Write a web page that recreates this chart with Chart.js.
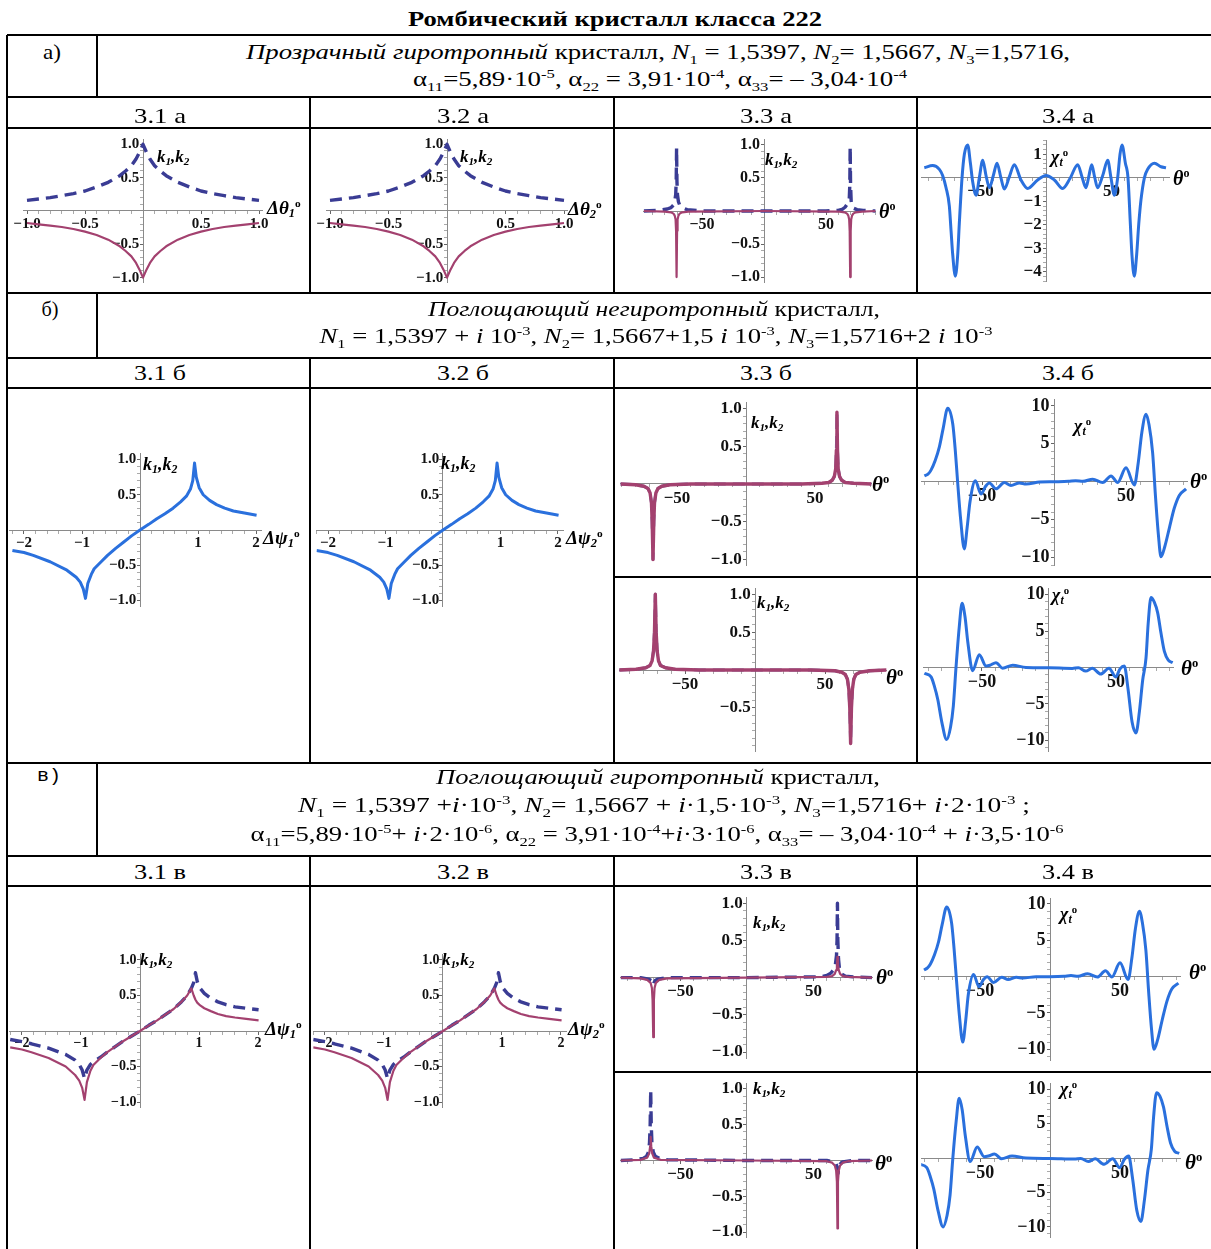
<!DOCTYPE html>
<html>
<head>
<meta charset="utf-8">
<script src="https://cdn.jsdelivr.net/npm/chart.js@4.4.1/dist/chart.umd.min.js"></script>
<style>
html,body{margin:0;padding:0;background:#fff;}
#page{position:relative;width:1211px;height:1249px;overflow:hidden;font-family:"Liberation Serif","Times New Roman",serif;color:#000;}
.rule{position:absolute;background:#000;z-index:5;}
.txt{position:absolute;white-space:nowrap;line-height:1;z-index:6;}
.txt sub,.txt sup{font-size:0.62em;line-height:0;}
.mono{font-family:"Liberation Mono","DejaVu Sans Mono",monospace;}
canvas{position:absolute;z-index:2;}
.ax{position:absolute;white-space:nowrap;line-height:1;font-weight:bold;font-style:italic;z-index:4;}
.ax sub{font-size:0.66em;vertical-align:-0.25em;line-height:0;}
.ax sup{font-size:0.6em;vertical-align:0.65em;line-height:0;font-style:normal;}
</style>
</head>
<body>
<div id="page"></div>
<script>
// ---------- data: 3.1 а / 3.2 а (k1, k2 vs Δθ) ----------
const dTheta = [-1,-0.9,-0.8,-0.7,-0.6,-0.5,-0.4,-0.3,-0.2,-0.15,-0.1,-0.06,-0.03,0,0.03,0.06,0.1,0.15,0.2,0.3,0.4,0.5,0.6,0.7,0.8,0.9,1];
const k1_a = [0.16,0.18,0.20,0.23,0.26,0.30,0.36,0.43,0.53,0.60,0.68,0.78,0.88,1.00,0.88,0.78,0.68,0.60,0.53,0.43,0.36,0.30,0.26,0.23,0.20,0.18,0.16];
const k2_a = [-0.18,-0.20,-0.22,-0.24,-0.27,-0.31,-0.36,-0.43,-0.53,-0.60,-0.68,-0.78,-0.88,-1.00,-0.88,-0.78,-0.68,-0.60,-0.53,-0.43,-0.36,-0.31,-0.27,-0.24,-0.22,-0.20,-0.18];

// ---------- 3.3 а (k1, k2 vs θ) ----------
const thK1_33a = [-97,-85,-78,-75,-73,-72,-71.2,-70.8,-70.5,-70.2,-69.8,-69,-68,-66,-62,-50,0,50,60,63.5,65.5,67,68,68.8,69.2,69.5,69.8,70.3,71,72.5,75,80,90];
const k1_33a   = [0,0.01,0.03,0.05,0.09,0.14,0.25,0.45,0.95,0.45,0.25,0.14,0.09,0.05,0.02,0,0,0,0.01,0.03,0.06,0.1,0.13,0.2,0.4,0.97,0.4,0.15,0.08,0.04,0.02,0.01,0];
const thK2_33a = [-97,-80,-75,-73,-72,-71.3,-70.9,-70.5,-70.1,-69.7,-69,-68,-66,-61,0,61,65,67,68,68.7,69.1,69.5,69.9,70.3,71,72,74,79,90];
const k2_33a   = [0,-0.01,-0.02,-0.04,-0.07,-0.13,-0.3,-1.0,-0.3,-0.13,-0.07,-0.04,-0.02,-0.01,0,-0.01,-0.02,-0.04,-0.07,-0.13,-0.3,-1.0,-0.3,-0.13,-0.07,-0.04,-0.02,-0.01,0];

// ---------- 3.4 а (χt vs θ) ----------
const th_34a  = [-92.9,-86.5,-81.4,-78.9,-76.3,-73.8,-72.5,-71.2,-69.2,-67.4,-66.2,-64.1,-62.3,-59.8,-57.7,-56,-53.4,-50.9,-48.3,-45.8,-43.2,-40.2,-37.4,-34.4,-31.8,-28,-24.2,-19.1,-14,-6.4,0,6.4,12.7,18.3,24.2,27.5,30.5,32.6,34.9,37.1,39.4,43.3,47.1,49.6,52.2,54.7,56.5,58,60.6,62.6,64.4,65.6,67.4,69.2,70.8,72.5,75.1,77.6,82.8,87.8,91.6];
const chi_34a = [0.43,0.52,0.36,0.1,-0.42,-1.19,-2.23,-3.27,-4.18,-3.27,-1.97,0,1.01,1.4,0.62,-0.16,-0.74,0,0.75,0.1,-0.42,0.1,0.62,0,-0.48,0.04,0.56,-0.09,-0.45,-0.09,0.1,-0.09,-0.45,-0.03,0.56,0.04,-0.42,0.04,0.56,0.04,-0.42,0.1,0.75,0,-0.74,0,1.01,1.4,0.62,0,-1.97,-3.27,-4.18,-3.27,-1.97,-0.94,0,0.36,0.62,0.47,0.43];

// ---------- 3.1 б / 3.2 б (k1 = k2 vs Δψ) ----------
const psi_b = [-2.2,-2.0,-1.84,-1.55,-1.26,-1.1,-1.03,-0.98,-0.94,-0.9,-0.84,-0.79,-0.67,-0.56,-0.42,-0.28,-0.14,0,0.15,0.29,0.43,0.57,0.7,0.8,0.87,0.91,0.94,0.97,1.02,1.09,1.2,1.32,1.46,1.61,1.8,2.01];
const k_b   = [-0.29,-0.32,-0.36,-0.45,-0.57,-0.67,-0.74,-0.83,-0.97,-0.76,-0.63,-0.55,-0.45,-0.36,-0.26,-0.17,-0.08,0,0.08,0.16,0.23,0.31,0.4,0.48,0.58,0.7,0.95,0.75,0.6,0.5,0.42,0.36,0.31,0.27,0.24,0.21];

// ---------- 3.3 б (two settings, k1 = k2 vs θ) ----------
const th_33b1 = [-91,-80,-74,-71,-69.5,-68.5,-68,-67.4,-66.8,-66.3,-65.3,-63.8,-61,-55,-40,0,40,55,60,62.5,64,65,65.5,65.9,66.3,66.8,67.8,69.3,72,78,91];
const k_33b1  = [0,-0.01,-0.03,-0.06,-0.12,-0.25,-0.5,-1.0,-0.5,-0.25,-0.12,-0.06,-0.03,-0.01,0,0,0,0.01,0.02,0.05,0.1,0.2,0.45,0.95,0.45,0.2,0.1,0.05,0.02,0.01,0];
const th_33b2 = [-97,-85,-78,-75,-73.5,-72.5,-71.8,-71.2,-70.6,-69.9,-68.9,-67.5,-64,-57,-40,0,40,57,62,64.5,66,67,67.7,68.3,68.9,69.6,70.6,72,75,82,94];
const k_33b2  = [0,0.01,0.03,0.06,0.12,0.25,0.5,1.0,0.5,0.25,0.12,0.06,0.03,0.01,0,0,0,-0.01,-0.03,-0.06,-0.12,-0.25,-0.5,-0.97,-0.5,-0.25,-0.12,-0.06,-0.03,-0.01,0];

// ---------- 3.4 б (two settings, χt vs θ) ----------
const th_34b1  = [-90,-87.5,-85.5,-82.5,-79.6,-77,-73.8,-70.3,-68.5,-66.9,-64.8,-62.3,-60.3,-58.3,-54.6,-50.7,-47.5,-44.9,-40.3,-34.5,-29.9,-24,-19.4,-10,0,10,15,20,26.9,33.8,39.6,44.2,50,55.8,58.5,61,63.9,66,68.5,70.5,72.5,74.3,77,80.1,83.5,87,91.7];
const chi_34b1 = [0.77,1.0,1.5,2.8,4.6,7.0,9.7,7.6,4.0,-0.1,-5.0,-8.85,-6.0,-2.6,0.13,-1.6,-0.6,-0.17,-0.94,-0.1,-0.5,-0.15,-0.3,-0.05,0,0.05,0.13,0.05,0.34,-0.1,0.77,-0.1,1.84,-0.43,2.5,6.5,8.9,7.5,3.8,-2.0,-7.0,-9.9,-8.5,-6.1,-3.5,-1.8,-0.94];
const th_34b2  = [-93,-88,-85.5,-83,-80,-76.4,-73.5,-71.4,-69.4,-67,-64.9,-62.7,-60.6,-57,-52,-47,-44,-39.6,-34.6,-27.1,-17.2,0,17.4,22,27.4,32.3,38.6,44.8,49.8,53,56.2,59,62,64.9,67.5,69.9,72.4,74,76.1,78.5,81.1,83.5,86.1,89,92.3];
const chi_34b2 = [-0.8,-1.3,-2.6,-4.4,-7.5,-9.9,-8.2,-5.3,0,5.5,8.8,7.0,3.5,-0.44,1.75,0.2,0.3,0.66,-0.1,0.3,0,-0.05,-0.13,-0.05,-0.5,-0.1,-0.9,-0.1,-1.3,-0.2,0.2,-3.0,-7.5,-9.0,-6.0,-1.75,1.3,6.0,9.6,9.0,7.5,4.8,2.2,1.0,0.66];

// ---------- 3.1 в / 3.2 в (k1 dashed, k2 solid vs Δψ) ----------
const psi_v = [-2.2,-2.0,-1.84,-1.55,-1.26,-1.1,-1.03,-0.98,-0.94,-0.9,-0.84,-0.79,-0.67,-0.56,-0.42,-0.28,-0.14,0,0.15,0.29,0.43,0.57,0.7,0.8,0.87,0.91,0.94,0.97,1.02,1.09,1.2,1.32,1.46,1.61,1.8,2.01];
const k1_v  = [-0.12,-0.15,-0.18,-0.24,-0.33,-0.41,-0.47,-0.55,-0.67,-0.55,-0.47,-0.43,-0.37,-0.3,-0.22,-0.14,-0.07,0,0.08,0.15,0.23,0.31,0.41,0.5,0.6,0.68,0.82,0.7,0.6,0.53,0.46,0.41,0.37,0.34,0.32,0.3];
const k2_v  = [-0.23,-0.26,-0.3,-0.38,-0.5,-0.62,-0.7,-0.8,-0.97,-0.72,-0.56,-0.48,-0.38,-0.3,-0.22,-0.14,-0.07,0,0.08,0.15,0.23,0.31,0.41,0.5,0.6,0.5,0.44,0.4,0.36,0.32,0.28,0.24,0.21,0.19,0.17,0.15];

// ---------- 3.3 в (two settings, k1 / k2 vs θ) ----------
const thK1_33v1 = [-95,-80,-74,-72,-71,-70.5,-70,-69,-67,-60,0,55,60,63,65,66.5,67.3,67.7,68,68.3,68.8,69.5,71,74,80,94];
const k1_33v1   = [0,0,-0.02,-0.04,-0.07,-0.1,-0.07,-0.04,-0.02,0,0,0.01,0.03,0.06,0.1,0.18,0.3,0.5,1.0,0.5,0.25,0.12,0.05,0.02,0.01,0];
const thK2_33v1 = [-95,-80,-75,-72.5,-71.5,-71,-70.5,-70,-69.5,-68.5,-66,-60,0,60,64,66,67,67.6,68,68.4,69,70,72,76,94];
const k2_33v1   = [0,-0.01,-0.03,-0.07,-0.14,-0.3,-0.8,-0.3,-0.14,-0.07,-0.03,-0.01,0,0.01,0.02,0.05,0.1,0.17,0.28,0.17,0.1,0.05,0.02,0.01,0];
const thK1_33v2 = [-95,-85,-78,-75.5,-74,-73.3,-72.8,-72.4,-72,-71.5,-70.5,-69,-66,-60,0,60,65,67,68,68.5,69,70,72,80,94];
const k1_33v2   = [0,0.01,0.03,0.06,0.12,0.25,0.5,0.98,0.5,0.25,0.12,0.06,0.03,0.01,0,0,-0.02,-0.05,-0.1,-0.18,-0.1,-0.05,-0.02,0,0];
const thK2_33v2 = [-95,-80,-75,-73.5,-72.8,-72.4,-72,-71.3,-70,-65,0,60,64,66,67,67.6,68,68.4,69,70,72,76,94];
const k2_33v2   = [0,0.01,0.04,0.1,0.2,0.33,0.2,0.1,0.04,0.01,0,-0.01,-0.03,-0.07,-0.14,-0.3,-0.95,-0.3,-0.14,-0.07,-0.03,-0.01,0];

// ---------- 3.4 в (two settings, χt vs θ) ----------
const th_34v1  = [-90,-87.5,-85.5,-82.5,-79.6,-77,-73.8,-70.3,-68.5,-66.9,-64.8,-62.3,-60.3,-58.3,-54.6,-50.7,-47.5,-44.9,-40.3,-34.5,-29.9,-24,-19.4,-10,0,10,15,20,26.9,33.8,39.6,44.2,50,55.8,58.5,61,63.9,66,68.5,70.5,72.5,74.3,77,80.1,83.5,87,91.7];
const chi_34v1 = [0.9,1.2,1.7,3.0,4.8,7.2,9.6,7.4,3.8,-0.2,-5.2,-9.0,-6.2,-2.4,0.3,-1.4,-0.4,0,-0.8,-0.1,-0.4,-0.1,-0.2,0,0,0.05,0.15,0.05,0.4,-0.05,0.8,-0.05,1.9,-0.4,2.6,6.6,9.0,7.4,3.6,-2.2,-7.2,-10.0,-8.6,-6.0,-3.4,-1.7,-0.9];
const th_34v2  = [-93,-88,-85.5,-83,-80,-76.4,-73.5,-71.4,-69.4,-67,-64.9,-62.7,-60.6,-57,-52,-47,-44,-39.6,-34.6,-27.1,-17.2,0,17.4,22,27.4,32.3,38.6,44.8,49.8,53,56.2,59,62,64.9,67.5,69.9,72.4,74,76.1,78.5,81.1,83.5,86.1,89,92.3];
const chi_34v2 = [-0.9,-1.4,-2.7,-4.5,-7.6,-10.0,-8.3,-5.4,0,5.4,8.7,7.0,3.4,-0.5,1.6,0.2,0.3,0.6,-0.1,0.3,0,-0.05,-0.15,-0.05,-0.5,-0.1,-0.9,-0.1,-1.4,-0.2,0.3,-3.0,-7.6,-9.2,-6.0,-1.8,1.3,6.0,9.5,9.0,7.4,4.7,2.2,1.0,0.7];

// ---------- styles ----------
const NAVY = '#3a3c94', MAROON = '#a3416f', BLUE = '#2a70dd', AXIS = '#8a8a8a';
const SERIF = '"Liberation Serif","Times New Roman",serif';

const page = document.getElementById('page');

function pts(xs, ys) {
  if (xs.length !== ys.length) console.error('length mismatch', xs.length, ys.length);
  return xs.map((x, i) => ({x: x, y: ys[i]}));
}
const dashed = (xs, ys) => ({data: pts(xs, ys), borderColor: NAVY, borderWidth: 3.4, borderDash: [12, 7], tension: 0});
const dashedOver = (xs, ys) => ({data: pts(xs, ys), borderColor: 'rgba(58,60,148,0.75)', borderWidth: 3, borderDash: [12, 7], tension: 0});
const solid = (xs, ys, w) => ({data: pts(xs, ys), borderColor: MAROON, borderWidth: w || 2.2, tension: 0});
const smooth = (xs, ys) => ({data: pts(xs, ys), borderColor: BLUE, borderWidth: 3, cubicInterpolationMode: 'monotone'});
const cusp = (xs, ys) => ({data: pts(xs, ys), borderColor: BLUE, borderWidth: 3, tension: 0});

const fmt1 = v => (v < 0 ? '\u2212' : '') + Math.abs(v).toFixed(1);
const fmt0 = v => (v < 0 ? '\u2212' : '') + Math.abs(Math.round(v));

function axis(range, step, majors, fmt, fs, pos, isY) {
  const isMajor = v => majors.some(m => Math.abs(m - v) < step / 10);
  return {
    type: 'linear', min: range[0], max: range[1], position: pos,
    afterFit: s => { if (isY) s.width = 0; else s.height = 0; },
    border: {display: true, color: AXIS, width: 1},
    grid: {display: true, drawOnChartArea: false, drawTicks: true, tickLength: 3,
           tickColor: c => (c.tick && isMajor(c.tick.value)) ? '#666' : '#aaa'},
    ticks: {stepSize: step, includeBounds: false, autoSkip: false, maxRotation: 0, minRotation: 0,
            padding: 1, color: '#111', font: {family: SERIF, size: fs, weight: 'bold'},
            callback: v => isMajor(v) ? fmt(v) + (isY ? ' ' : '') : ''}
  };
}

const K   = '<i>k</i><sub>1</sub>,<i>k</i><sub>2</sub>';
const DT1 = 'Δ<i>θ</i><sub>1</sub><sup>o</sup>';
const DT2 = 'Δ<i>θ</i><sub>2</sub><sup>o</sup>';
const DP1 = 'Δ<i>ψ</i><sub>1</sub><sup>o</sup>';
const DP2 = 'Δ<i>ψ</i><sub>2</sub><sup>o</sup>';
const TH  = '<i>θ</i><sup>o</sup>';
const CHI = '<i>χ</i><sub>t</sub><sup>o</sup>';

const M1 = [-1, -0.5, 0.5, 1], M50 = [-50, 50];

const charts = [
  // row а
  {cell:[8,129,302,164], ox:143, sx:116, oy:209, sy:68.5, x:[-1.03,1.03], y:[-1.08,1.08],
   xt:[0.1,M1,fmt1], yt:[0.1,M1,fmt1], fs:15,
   series:[dashed(dTheta,k1_a), solid(dTheta,k2_a)], titles:[[K,157,148,17],[DT1,267,198,19]]},
  {cell:[310,129,304,164], ox:447, sx:117, oy:209, sy:68.5, x:[-1.03,1.03], y:[-1.08,1.08],
   xt:[0.1,M1,fmt1], yt:[0.1,M1,fmt1], fs:15,
   series:[dashed(dTheta,k1_a), solid(dTheta,k2_a)], titles:[[K,460,148,17],[DT2,568,199,19]]},
  {cell:[614,129,303,164], ox:764, sx:1.24, oy:210, sy:68.5, x:[-97,90], y:[-1.08,1.08],
   xt:[10,M50,fmt0], yt:[0.1,M1,fmt1], fs:16,
   series:[solid(thK2_33a,k2_33a), dashed(thK1_33a,k1_33a)], titles:[[K,765,151,17],[TH,879,201,20]]},
  {cell:[917,129,294,164], ox:1046, sx:1.31, oy:177, sy:25.7, x:[-95,94], y:[-4.42,1.6],
   xt:[10,M50,fmt0], yt:[0.2,[-4,-3,-2,-1,1],fmt0], fs:17,
   series:[smooth(th_34a,chi_34a)], titles:[[CHI,1051,148,18],[TH,1173,168,20]]},
  // row б
  {cell:[8,388,302,375], ox:140, sx:58, oy:530, sy:70.5, x:[-2.25,2.1], y:[-1.08,1.08],
   xt:[0.2,[-2,-1,1,2],fmt0], yt:[0.1,M1,fmt1], fs:15,
   series:[cusp(psi_b,k_b)], titles:[[K,143,455,18],[DP1,263,528,19]]},
  {cell:[310,388,304,375], ox:443, sx:57.5, oy:530, sy:70.5, x:[-2.2,2.1], y:[-1.08,1.08],
   xt:[0.2,[-2,-1,1,2],fmt0], yt:[0.1,M1,fmt1], fs:15,
   series:[cusp(psi_b,k_b)], titles:[[K,441,454,18],[DP2,566,528,19]]},
  {cell:[614,388,303,189], ox:746, sx:1.38, oy:484, sy:75.5, x:[-91,91], y:[-1.08,1.08],
   xt:[10,M50,fmt0], yt:[0.1,M1,fmt1], fs:17,
   series:[solid(th_33b1,k_33b1,3.4), dashedOver(th_33b1,k_33b1)], titles:[[K,751,414,17],[TH,872,474,21]]},
  {cell:[917,388,294,189], ox:1054, sx:1.44, oy:481, sy:7.8, x:[-92,93], y:[-11,10.8],
   xt:[10,M50,fmt0], yt:[1,[-10,-5,5,10],fmt0], fs:18,
   series:[smooth(th_34b1,chi_34b1)], titles:[[CHI,1074,417,18],[TH,1190,471,21]]},
  {cell:[614,577,303,186], ox:755, sx:1.4, oy:675, sy:81, x:[-97,94], y:[-1.08,1.08],
   xt:[10,M50,fmt0], yt:[0.1,[-0.5,0.5,1],fmt1], fs:17,
   series:[solid(th_33b2,k_33b2,3.4), dashedOver(th_33b2,k_33b2)], titles:[[K,757,594,17],[TH,886,667,21]]},
  {cell:[917,577,294,186], ox:1049, sx:1.34, oy:668, sy:7.6, x:[-94,93], y:[-11.5,10.8],
   xt:[10,M50,fmt0], yt:[1,[-10,-5,5,10],fmt0], fs:18,
   series:[smooth(th_34b2,chi_34b2)], titles:[[CHI,1052,586,18],[TH,1181,658,21]]},
  // row в
  {cell:[8,886,302,363], ox:140, sx:59, oy:1031, sy:71, x:[-2.22,2.15], y:[-1.08,1.08],
   xt:[0.2,[-2,-1,1,2],fmt0], yt:[0.1,M1,fmt1], fs:14,
   series:[solid(psi_v,k2_v), dashed(psi_v,k1_v)], titles:[[K,140,951,17],[DP1,265,1019,19]]},
  {cell:[310,886,304,363], ox:443, sx:59, oy:1031, sy:71, x:[-2.2,2.1], y:[-1.08,1.08],
   xt:[0.2,[-2,-1,1,2],fmt0], yt:[0.1,M1,fmt1], fs:14,
   series:[solid(psi_v,k2_v), dashed(psi_v,k1_v)], titles:[[K,442,951,17],[DP2,568,1019,19]]},
  {cell:[614,886,303,186], ox:747, sx:1.33, oy:977, sy:75, x:[-95,94.5], y:[-1.08,1.08],
   xt:[10,M50,fmt0], yt:[0.1,M1,fmt1], fs:17,
   series:[solid(thK2_33v1,k2_33v1), dashed(thK1_33v1,k1_33v1)], titles:[[K,753,914,17],[TH,876,967,21]]},
  {cell:[917,886,294,186], ox:1050, sx:1.4, oy:977, sy:7.3, x:[-92,93], y:[-11.5,10.8],
   xt:[10,M50,fmt0], yt:[1,[-10,-5,5,10],fmt0], fs:18,
   series:[smooth(th_34v1,chi_34v1)], titles:[[CHI,1060,905,18],[TH,1189,962,21]]},
  {cell:[614,1072,303,177], ox:747, sx:1.33, oy:1163, sy:75, x:[-95,94.5], y:[-1.08,1.08],
   xt:[10,M50,fmt0], yt:[0.1,M1,fmt1], fs:17,
   series:[solid(thK2_33v2,k2_33v2), dashed(thK1_33v2,k1_33v2)], titles:[[K,753,1080,17],[TH,875,1153,21]]},
  {cell:[917,1072,294,177], ox:1050, sx:1.4, oy:1160, sy:7.2, x:[-92,93], y:[-11.5,10.8],
   xt:[10,M50,fmt0], yt:[1,[-10,-5,5,10],fmt0], fs:18,
   series:[smooth(th_34v2,chi_34v2)], titles:[[CHI,1060,1080,18],[TH,1185,1152,21]]}
];

function buildChart(s) {
  const [cx, cy, cw, ch] = s.cell;
  const cv = document.createElement('canvas');
  cv.width = cw; cv.height = ch;
  Object.assign(cv.style, {left: cx + 'px', top: cy + 'px', width: cw + 'px', height: ch + 'px'});
  page.appendChild(cv);
  const L = s.ox + s.x[0] * s.sx, R = s.ox + s.x[1] * s.sx;
  const T = s.oy - s.y[1] * s.sy, B = s.oy - s.y[0] * s.sy;
  const padding = {left: L - cx, right: cx + cw - R, top: T - cy, bottom: cy + ch - B};
  s.series.forEach(d => { d.pointRadius = 0; d.fill = false; d.borderCapStyle = 'butt'; d.borderJoinStyle = 'round'; });
  new Chart(cv, {
    type: 'line',
    data: {datasets: s.series},
    options: {
      responsive: false, animation: false, events: [],
      layout: {padding: padding, autoPadding: false},
      plugins: {legend: {display: false}, tooltip: {enabled: false}, title: {display: false}},
      scales: {
        x: axis(s.x, s.xt[0], s.xt[1], s.xt[2], s.fs, {y: 0}, false),
        y: axis(s.y, s.yt[0], s.yt[1], s.yt[2], s.fs, {x: 0}, true)
      }
    }
  });
  s.titles.forEach(([html, left, top, size]) => {
    const el = document.createElement('div');
    el.className = 'ax';
    el.innerHTML = html;
    Object.assign(el.style, {left: left + 'px', top: top + 'px', fontSize: size + 'px'});
    page.appendChild(el);
  });
}

// ---------- table rules ----------
function rule(x, y, w, h) {
  const d = document.createElement('div');
  d.className = 'rule';
  Object.assign(d.style, {left: x + 'px', top: y + 'px', width: w + 'px', height: h + 'px'});
  page.appendChild(d);
}
const LW = 2;
[35, 97, 128, 293, 358, 388, 763, 856, 886].forEach(y => rule(7, y - 1, 1211 - 7, LW));
[577, 1072].forEach(y => rule(614, y - 1, 1211 - 614, LW));
rule(6, 35, LW, 1249 - 35);
[[35, 97], [293, 358], [763, 856]].forEach(([a, b]) => rule(95.5, a, LW, b - a));
[[97, 293], [358, 763], [856, 1249]].forEach(([a, b]) => [309, 613, 916].forEach(x => rule(x, a, LW, b - a)));

// ---------- table text ----------
const A1 = '<i>Прозрачный гиротропный</i> кристалл, <i>N</i><sub>1</sub> = 1,5397, <i>N</i><sub>2</sub>= 1,5667, <i>N</i><sub>3</sub>=1,5716,';
const A2 = 'α<sub>11</sub>=5,89·10<sup>-5</sup>, α<sub>22</sub> = 3,91·10<sup>-4</sup>, α<sub>33</sub>= – 3,04·10<sup>-4</sup>';
const B1 = '<i>Поглощающий негиротропный</i> кристалл,';
const B2 = '<i>N</i><sub>1</sub> = 1,5397 + <i>i</i> 10<sup>-3</sup>, <i>N</i><sub>2</sub>= 1,5667+1,5 <i>i</i> 10<sup>-3</sup>, <i>N</i><sub>3</sub>=1,5716+2 <i>i</i> 10<sup>-3</sup>';
const V1 = '<i>Поглощающий гиротропный</i> кристалл,';
const V2 = '<i>N</i><sub>1</sub> = 1,5397 +<i>i</i>·10<sup>-3</sup>, <i>N</i><sub>2</sub>= 1,5667 + <i>i</i>·1,5·10<sup>-3</sup>, <i>N</i><sub>3</sub>=1,5716+ <i>i</i>·2·10<sup>-3</sup> ;';
const V3 = 'α<sub>11</sub>=5,89·10<sup>-5</sup>+ <i>i</i>·2·10<sup>-6</sup>, α<sub>22</sub> = 3,91·10<sup>-4</sup>+<i>i</i>·3·10<sup>-6</sup>, α<sub>33</sub>= – 3,04·10<sup>-4</sup> + <i>i</i>·3,5·10<sup>-6</sup>';

const lines = [
  {h:'Ромбический кристалл класса 222', cx:615, cy:19, fs:21, w:414, bold:true},
  {h:'а)', cx:52, cy:52, fs:21, w:18},
  {h:A1, cx:657.5, cy:52, fs:21, w:824},
  {h:A2, cx:660, cy:79, fs:21, w:494},
  {h:'3.1 а', cx:160, cy:116, fs:22, w:52},
  {h:'3.2 а', cx:463, cy:116, fs:22, w:52},
  {h:'3.3 а', cx:766, cy:116, fs:22, w:52},
  {h:'3.4 а', cx:1068, cy:116, fs:22, w:52},
  {h:'б)', cx:50, cy:309, fs:21, w:17},
  {h:B1, cx:654, cy:309, fs:21, w:452},
  {h:B2, cx:656, cy:336, fs:21, w:673},
  {h:'3.1 б', cx:160, cy:373, fs:22, w:52},
  {h:'3.2 б', cx:463, cy:373, fs:22, w:52},
  {h:'3.3 б', cx:766, cy:373, fs:22, w:52},
  {h:'3.4 б', cx:1068, cy:373, fs:22, w:52},
  {h:'в)', cx:49, cy:776, fs:18, w:24, mono:true},
  {h:V1, cx:658, cy:777, fs:21, w:444},
  {h:V2, cx:664, cy:805, fs:21, w:732},
  {h:V3, cx:657, cy:834, fs:21, w:813},
  {h:'3.1 в', cx:160, cy:872, fs:22, w:52},
  {h:'3.2 в', cx:463, cy:872, fs:22, w:52},
  {h:'3.3 в', cx:766, cy:872, fs:22, w:52},
  {h:'3.4 в', cx:1068, cy:872, fs:22, w:52}
];

lines.forEach(t => {
  const el = document.createElement('div');
  el.className = 'txt' + (t.mono ? ' mono' : '');
  el.innerHTML = t.h;
  el.style.fontSize = t.fs + 'px';
  if (t.bold) el.style.fontWeight = 'bold';
  el.style.left = t.cx + 'px';
  el.style.top = t.cy + 'px';
  page.appendChild(el);
  const natural = el.getBoundingClientRect().width;
  const k = t.w ? t.w / natural : 1;
  el.style.transform = 'translate(-50%,-50%) scaleX(' + k.toFixed(4) + ')';
});

charts.forEach(buildChart);
</script>
</body>
</html>
